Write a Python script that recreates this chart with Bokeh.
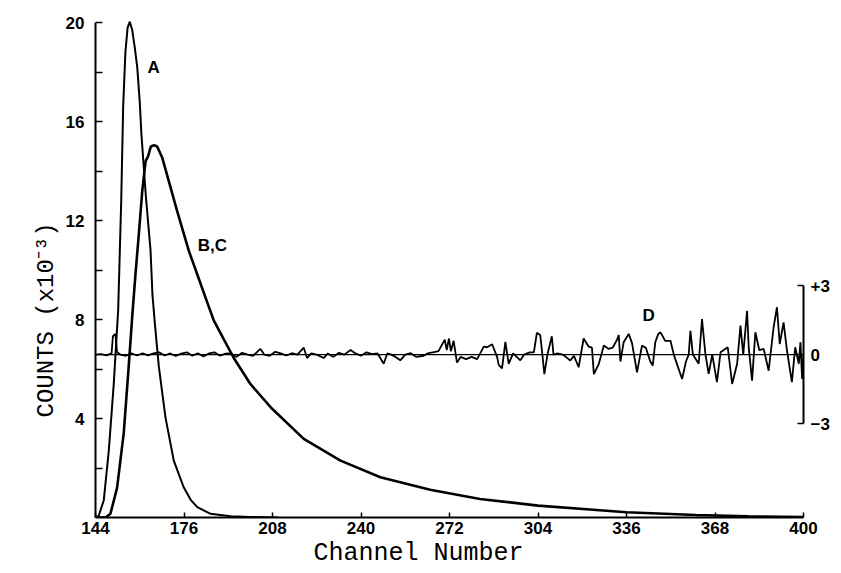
from bokeh.plotting import figure
from bokeh.models import Range1d, LinearAxis, FixedTicker, Label, Span, Title
from bokeh.embed import file_html
from bokeh.resources import INLINE

# ---- data ----
# Curve A (counts x10^-3)
a_channel = [144, 145.2, 147.0, 148.8, 150.6, 152.2, 153.3, 154.0, 154.8, 155.6, 156.4,
             157.3, 158.2, 159.1, 160.0, 160.6, 161.5, 162.2, 163.9, 164.6, 165.5, 166.9,
             169.3, 172.3, 175.9, 178.5, 180.8, 185.6, 192.8, 200, 210]
a_counts = [0, 0.08, 0.7, 2.7, 5.4, 8.4, 12.8, 16.6, 18.8, 19.8, 20.05,
            19.7, 19.0, 18.2, 16.8, 15.5, 14.1, 13.0, 10.8, 9.0, 7.8, 6.1,
            4.05, 2.3, 1.22, 0.7, 0.42, 0.15, 0.05, 0.02, 0]

# Curve B,C (counts x10^-3)
bc_channel = [144, 147.6, 149.4, 151.8, 154.2, 156.0, 157.2, 158.5, 159.7, 160.9, 162.1,
              163.0, 164.0, 165.2, 166.3, 168.1, 170.5, 173.5, 177.7, 182.0, 184.4, 186.8,
              190.4, 194.0, 200.0, 207.3, 219.3, 232.6, 247.0, 265.0, 283.0, 304.0, 336.0,
              361.0, 380.0, 400.0]
bc_counts = [0, 0, 0.15, 1.2, 3.4, 6.1, 8.0, 9.9, 11.5, 13.2, 14.4,
             14.6, 15.0, 15.05, 15.0, 14.56, 13.6, 12.4, 10.8, 9.45, 8.7, 7.96,
             7.2, 6.45, 5.4, 4.46, 3.18, 2.3, 1.63, 1.12, 0.75, 0.48, 0.21,
             0.1, 0.05, 0.02]

# Residuals D (right scale, -3 .. +3)
d_channel = [144, 146, 148, 149.8, 150.3, 151.2, 151.8, 153, 155, 157, 159, 161, 163, 165,
             167, 169, 171, 173, 175, 177, 179, 181, 183, 185, 187, 189, 191, 193, 195, 197,
             199, 201, 203.6, 205, 207, 209, 211, 213, 215, 217, 219.3, 220.5, 222, 224,
             226.5, 228, 230, 232, 234, 236.2, 238, 240, 242, 244, 246, 248.2, 249.5, 251,
             252.5, 254.2, 256, 258, 260, 262.7, 264, 266, 268, 270.3, 271.0, 271.8, 272.5,
             273.5, 274.7, 276, 278, 280, 282, 284.4, 285.6, 287.4, 289.2, 289.8, 291,
             292.2, 293.4, 295, 297.6, 299, 301, 302.5, 303.6, 304.8, 305.5, 306.3, 307.5,
             309.0, 309.6, 311, 313, 315.7, 317, 318.7, 320.5, 322.3, 323.5, 324.2, 326,
             327.8, 329.5, 331, 332.6, 333.2, 333.8, 335, 336.8, 338, 339.8, 341.6, 343,
             344.6, 345.5, 346.4, 347.5, 348.3, 350, 351.9, 353.1, 354.5, 356.1, 357.5,
             358.5, 359.1, 360, 362.1, 363.3, 364.5, 365.7, 367, 368.7, 370, 372.6, 374.2,
             376, 377.2, 378.2, 379.6, 380.2, 381.4, 382.6, 384, 385.6, 387.4, 389.2,
             390.4, 391.4, 392.8, 394, 395.8, 397, 398.3, 398.9, 399.5, 400]
d_resid = [0, 0.02, -0.03, 0.05, 0.8, 0.9, 0.1, 0, -0.05, 0.05, -0.04, 0.06, -0.03, 0.05,
           0.1, -0.04, 0.05, -0.06, 0.04, 0.1, -0.05, 0.06, -0.08, 0.05, 0.1, -0.05, 0.04,
           0.05, -0.1, 0.08, 0.0, -0.05, 0.25, 0.0, -0.05, 0.12, 0.05, -0.04, 0.06, 0.0,
           0.3, -0.15, 0.05, 0.0, -0.15, 0.05, -0.1, 0.08, 0.0, 0.2, 0.05, -0.05, 0.1,
           0.02, 0.05, -0.4, 0.05, 0.0, -0.1, -0.25, 0.0, 0.06, -0.1, -0.05, 0.05, 0.1,
           0.15, 0.65, 0.2, 0.7, 0.15, 0.6, -0.35, -0.1, -0.2, -0.1, -0.2, 0.35, 0.32,
           0.45, -0.1, -0.45, -0.6, 0.55, -0.4, 0.05, -0.25, 0.0, 0.1, 0.1, 0.95, 0.85,
           0.1, -0.85, 0.05, 0.8, 0.0, 0.05, 0.0, -0.26, -0.05, -0.55, 0.7, 0.35, 0.3,
           -0.85, -0.4, 0.4, 0.25, 0.3, 0.65, 0.85, -0.3, 0.55, 0.9, 0.5, -0.77, 0.39,
           0.3, -0.3, -0.48, 0.54, 0.9, 0.97, 0.6, 0.6, 0.0, -0.5, -1.06, -0.3, 0.0, 1.04,
           0.0, -0.4, 1.55, 0.05, -0.84, 0.0, -1.2, 0.1, 0.32, -1.28, -0.4, 1.26, 0.0,
           1.9, 0.3, -1.13, 0.97, 0.2, 0.25, -0.7, 1.19, 2.06, 0.46, 1.4, 0.2, -1.2,
           0.32, -0.4, 0.54, -1.06, 0.0]

x_ticks = [144, 176, 208, 240, 272, 304, 336, 368, 400]
y_ticks = [4, 8, 12, 16, 20]
y_minor_ticks = [2, 6, 10, 14, 18]
resid_ticks = [-3, 0, 3]
resid_tick_labels = {3: "+3", 0: "0", -3: "\u22123"}

curve_labels = ["A", "B,C", "D"]
curve_label_x = [165.0, 186.3, 344.0]
curve_label_y = [18.2, 11.0, 8.16]

x_title = "Channel Number"
y_title = "COUNTS (x10\u207b\u00b3)"

# ---- figure ----
p = figure(frame_width=708, frame_height=502,
           x_range=Range1d(144, 400), y_range=Range1d(0, 20.3),
           output_backend="svg", toolbar_location=None,
           min_border_left=95, min_border_right=38,
           min_border_top=15, min_border_bottom=56)
p.grid.visible = False
p.outline_line_color = None
p.background_fill_color = "white"
p.border_fill_color = "white"

tick_font = "Liberation Sans"

xa = p.xaxis[0]
xa.ticker = FixedTicker(ticks=x_ticks, minor_ticks=[])
xa.bounds = (144, 400)
xa.axis_line_width = 2
xa.major_tick_in = 5
xa.major_tick_out = 0
xa.major_tick_line_width = 1.5
xa.minor_tick_in = 0
xa.minor_tick_out = 0
xa.major_label_standoff = 4
xa.major_label_text_font = tick_font
xa.major_label_text_font_style = "bold"
xa.major_label_text_font_size = "17px"
xa.major_label_text_color = "black"

ya = p.yaxis[0]
ya.ticker = FixedTicker(ticks=y_ticks, minor_ticks=y_minor_ticks)
ya.bounds = (0, 20)
ya.axis_line_width = 2
ya.major_tick_in = 7
ya.major_tick_out = 0
ya.minor_tick_in = 7
ya.minor_tick_out = 0
ya.major_tick_line_width = 1.5
ya.minor_tick_line_width = 1.5
ya.minor_tick_line_color = "black"
ya.major_label_standoff = 11
ya.major_label_text_font = tick_font
ya.major_label_text_font_style = "bold"
ya.major_label_text_font_size = "17px"
ya.major_label_text_color = "black"

# residual scale on the right
p.extra_y_ranges = {"resid": Range1d(-7.089, 14.757)}
ra = LinearAxis(y_range_name="resid",
                ticker=FixedTicker(ticks=resid_ticks, minor_ticks=[]),
                major_label_overrides=resid_tick_labels)
ra.bounds = (-3, 3)
ra.axis_line_width = 2
ra.major_tick_in = 6
ra.major_tick_out = 0
ra.major_tick_line_width = 1.5
ra.minor_tick_in = 0
ra.minor_tick_out = 0
ra.major_label_standoff = 7
ra.major_label_text_font = tick_font
ra.major_label_text_font_style = "bold"
ra.major_label_text_font_size = "17px"
ra.major_label_text_color = "black"
p.add_layout(ra, "right")

# zero line of the residuals
p.add_layout(Span(location=0, dimension="width", y_range_name="resid",
                  line_color="black", line_width=1.2))

# curves
p.line(a_channel, a_counts, line_color="black", line_width=2.0)
p.line(bc_channel, bc_counts, line_color="black", line_width=2.6)
p.line(d_channel, d_resid, y_range_name="resid", line_color="black", line_width=1.8)

for t, lx, ly in zip(curve_labels, curve_label_x, curve_label_y):
    p.add_layout(Label(x=lx, y=ly, text=t, text_align="center", text_baseline="middle",
                       text_font=tick_font, text_font_style="bold",
                       text_font_size="17px", text_color="black"))

# axis titles
p.add_layout(Title(text=y_title, align="left", offset=100, standoff=6,
                   text_font="Liberation Mono", text_font_size="24px",
                   text_font_style="normal", text_color="black"), "left")
p.add_layout(Title(text=x_title, align="left", offset=218, standoff=0,
                   text_font="Liberation Mono", text_font_size="25px",
                   text_font_style="normal", text_color="black"), "below")

open("out.html", "w").write(file_html(p, INLINE))
